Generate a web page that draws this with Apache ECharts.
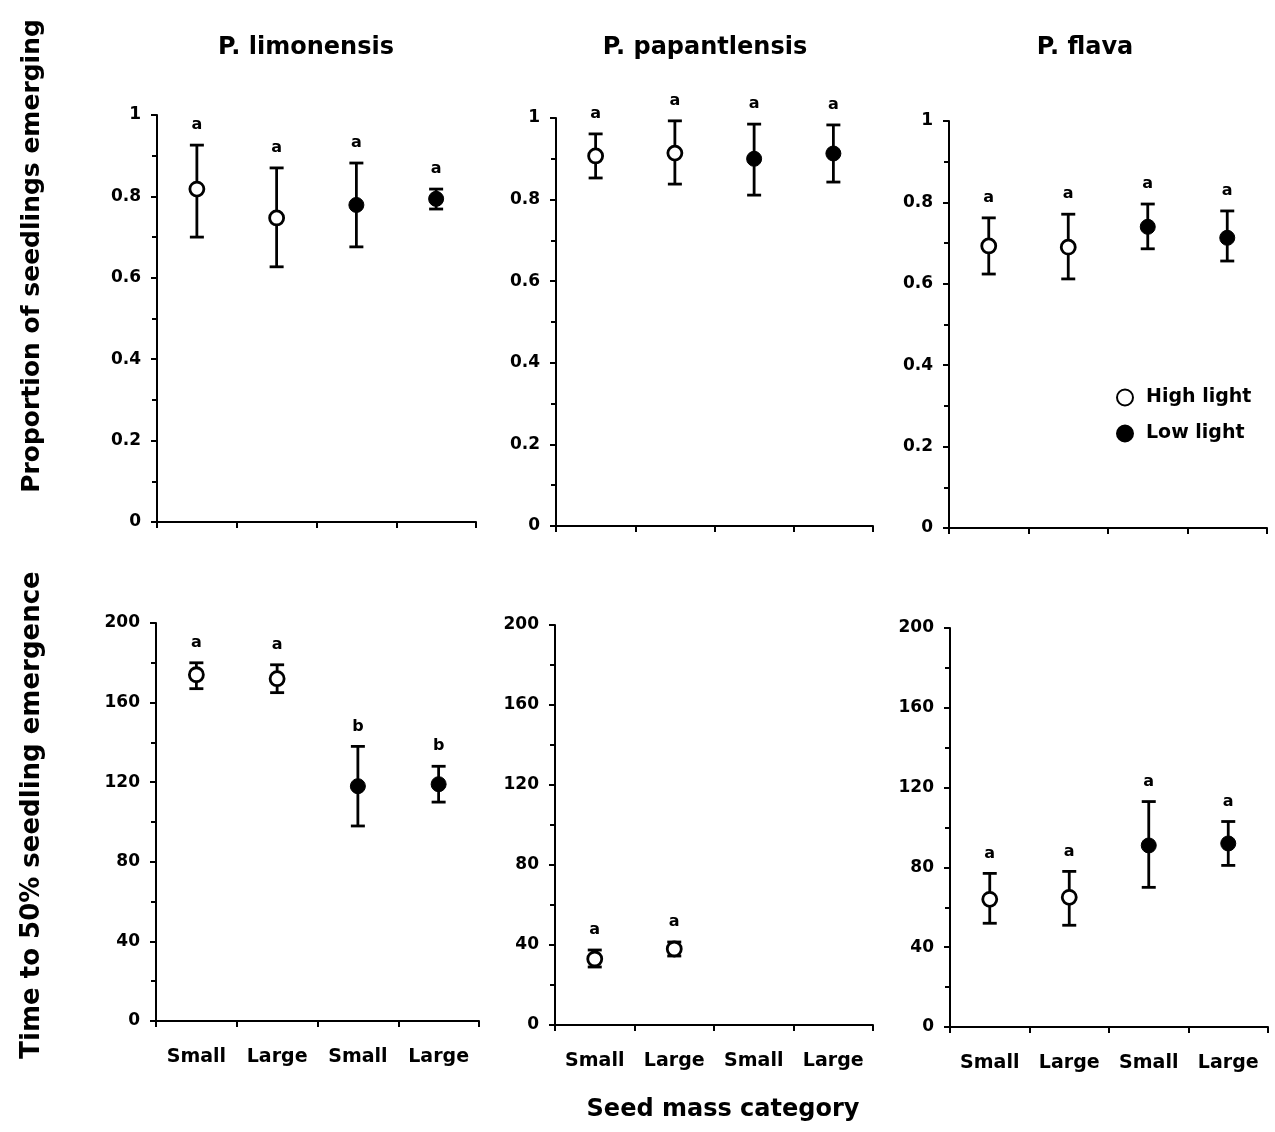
<!DOCTYPE html>
<html><head><meta charset="utf-8">
<script src="https://cdn.jsdelivr.net/npm/echarts@6/dist/echarts.min.js"></script>
<style>html,body{margin:0;padding:0;background:#fff}#c{width:1275px;height:1132px}</style>
</head><body><div id="c"></div>
<script>
// ---------- data ----------
const categories = ['Small', 'Large', 'Small', 'Large'];
const lightGroups = ['High light', 'High light', 'Low light', 'Low light'];
const species = ['P. limonensis', 'P. papantlensis', 'P. flava'];

// Proportion of seedlings emerging (mean, upper and lower error-bar ends)
const limPropMean  = [0.818, 0.747, 0.779, 0.794];
const limPropUpper = [0.926, 0.870, 0.882, 0.818];
const limPropLower = [0.700, 0.627, 0.676, 0.769];
const limPropLetters = ['a', 'a', 'a', 'a'];

const papPropMean  = [0.907, 0.914, 0.900, 0.913];
const papPropUpper = [0.961, 0.993, 0.985, 0.983];
const papPropLower = [0.853, 0.838, 0.811, 0.843];
const papPropLetters = ['a', 'a', 'a', 'a'];

const flaPropMean  = [0.693, 0.690, 0.740, 0.713];
const flaPropUpper = [0.762, 0.771, 0.796, 0.779];
const flaPropLower = [0.624, 0.612, 0.686, 0.656];
const flaPropLetters = ['a', 'a', 'a', 'a'];

// Time to 50% seedling emergence
const limTimeMean  = [174, 172, 118, 119];
const limTimeUpper = [180, 179, 138, 128];
const limTimeLower = [167, 165, 98, 110];
const limTimeLetters = ['a', 'a', 'b', 'b'];

const papTimeMean  = [33, 38, null, null];
const papTimeUpper = [37.5, 41.5, null, null];
const papTimeLower = [29, 34.5, null, null];
const papTimeLetters = ['a', 'a', '', ''];

const flaTimeMean  = [64, 65, 91, 92];
const flaTimeUpper = [77, 78, 113, 103];
const flaTimeLower = [52, 51, 70, 81];
const flaTimeLetters = ['a', 'a', 'a', 'a'];

// axis scales
const propMin = 0, propMax = 1, propInterval = 0.2;
const timeMin = 0, timeMax = 200, timeInterval = 40;

const yTitleTop = 'Proportion of seedlings emerging';
const yTitleBottom = 'Time to 50% seedling emergence';
const xTitle = 'Seed mass category';

// ---------- layout ----------
const FONT = '"DejaVu Sans", "Liberation Sans", Arial, sans-serif';
const grids = [
  {left: 157, top: 115, width: 319, height: 407},
  {left: 556, top: 118, width: 317, height: 408},
  {left: 949, top: 121, width: 318, height: 407},
  {left: 156, top: 623, width: 323, height: 398},
  {left: 555, top: 625, width: 318, height: 400},
  {left: 950, top: 628, width: 318, height: 399}
];
const panels = [
  {mean: limPropMean, up: limPropUpper, lo: limPropLower, let: limPropLetters, row: 0},
  {mean: papPropMean, up: papPropUpper, lo: papPropLower, let: papPropLetters, row: 0},
  {mean: flaPropMean, up: flaPropUpper, lo: flaPropLower, let: flaPropLetters, row: 0},
  {mean: limTimeMean, up: limTimeUpper, lo: limTimeLower, let: limTimeLetters, row: 1},
  {mean: papTimeMean, up: papTimeUpper, lo: papTimeLower, let: papTimeLetters, row: 1},
  {mean: flaTimeMean, up: flaTimeUpper, lo: flaTimeLower, let: flaTimeLetters, row: 1}
];

const xAxes = [], yAxes = [], series = [];
panels.forEach((p, k) => {
  xAxes.push({
    type: 'category', gridIndex: k, data: categories, boundaryGap: true,
    axisLine: {show: true, lineStyle: {color: '#000', width: 2}},
    axisTick: {show: true, alignWithLabel: false, interval: 0, length: 6, inside: false, lineStyle: {color: '#000', width: 2}},
    axisLabel: {show: p.row === 1, margin: 27, color: '#000', fontFamily: FONT, fontWeight: 'bold', fontSize: 19, interval: 0},
    splitLine: {show: false}
  });
  const isProp = p.row === 0;
  yAxes.push({
    type: 'value', gridIndex: k,
    min: isProp ? propMin : timeMin, max: isProp ? propMax : timeMax,
    interval: isProp ? propInterval : timeInterval,
    axisLine: {show: true, lineStyle: {color: '#000', width: 2}},
    axisTick: {show: true, length: 6, lineStyle: {color: '#000', width: 2}},
    minorTick: {show: true, splitNumber: 2, length: 5, lineStyle: {color: '#000', width: 2}},
    axisLabel: {margin: 16, color: '#000', fontFamily: FONT, fontWeight: 'bold', fontSize: 17},
    splitLine: {show: false}, minorSplitLine: {show: false}
  });
  const errData = [];
  const hiData = [], lowData = [];
  p.mean.forEach((v, i) => {
    if (v === null) return;
    errData.push([i, p.lo[i], p.up[i]]);
    if (lightGroups[i] === 'High light') hiData.push([i, v]); else lowData.push([i, v]);
  });
  const letters = p.let;
  series.push({
    type: 'custom', xAxisIndex: k, yAxisIndex: k, z: 2, clip: false,
    data: errData, encode: {x: 0, y: [1, 2]}, silent: true,
    renderItem: function (params, api) {
      const ci = api.value(0);
      const top = api.coord([ci, api.value(2)]);
      const bot = api.coord([ci, api.value(1)]);
      const w = 7;
      const st = {stroke: '#000', lineWidth: 2.8};
      return {type: 'group', children: [
        {type: 'line', shape: {x1: top[0], y1: top[1], x2: bot[0], y2: bot[1]}, style: st},
        {type: 'line', shape: {x1: top[0] - w, y1: top[1], x2: top[0] + w, y2: top[1]}, style: st},
        {type: 'line', shape: {x1: bot[0] - w, y1: bot[1], x2: bot[0] + w, y2: bot[1]}, style: st},
        {type: 'text', x: top[0], y: top[1] - 20, style: {text: letters[ci], align: 'center', verticalAlign: 'middle',
          font: 'bold 16px ' + FONT, fill: '#000'}}
      ]};
    }
  });
  series.push({
    name: 'High light', type: 'scatter', xAxisIndex: k, yAxisIndex: k, z: 3,
    data: hiData, symbol: 'circle', symbolSize: 14,
    itemStyle: {color: '#fff', borderColor: '#000', borderWidth: 2.8, opacity: 1}
  });
  series.push({
    name: 'Low light', type: 'scatter', xAxisIndex: k, yAxisIndex: k, z: 3,
    data: lowData, symbol: 'circle', symbolSize: 15,
    itemStyle: {color: '#000', borderColor: '#000', borderWidth: 1, opacity: 1}
  });
});

const titleX = [306, 705, 1085];
const graphics = species.map((s, i) => ({
  type: 'text', x: titleX[i], y: 48,
  style: {text: s, align: 'center', verticalAlign: 'middle', font: 'bold 24px ' + FONT, fill: '#000'}
}));
graphics.push({type: 'text', x: 32, y: 256, rotation: Math.PI / 2,
  style: {text: yTitleTop, align: 'center', verticalAlign: 'middle', font: 'bold 25px ' + FONT, fill: '#000'}});
graphics.push({type: 'text', x: 32, y: 815, rotation: Math.PI / 2,
  style: {text: yTitleBottom, align: 'center', verticalAlign: 'middle', font: 'bold 26px ' + FONT, fill: '#000'}});
graphics.push({type: 'text', x: 723, y: 1110,
  style: {text: xTitle, align: 'center', verticalAlign: 'middle', font: 'bold 24px ' + FONT, fill: '#000'}});

const chart = echarts.init(document.getElementById('c'), null, {renderer: 'canvas'});
chart.setOption({
  animation: false,
  backgroundColor: '#fff',
  grid: grids,
  xAxis: xAxes,
  yAxis: yAxes,
  legend: {
    data: ['High light', 'Low light'], orient: 'vertical', left: 1111, top: 383,
    itemWidth: 16, itemHeight: 16, itemGap: 17, icon: 'circle',
    textStyle: {fontFamily: FONT, fontWeight: 'bold', fontSize: 19, color: '#000', padding: [0, 0, 0, 8]},
    selectedMode: false
  },
  graphic: graphics,
  series: series
});
</script>
</body></html>
